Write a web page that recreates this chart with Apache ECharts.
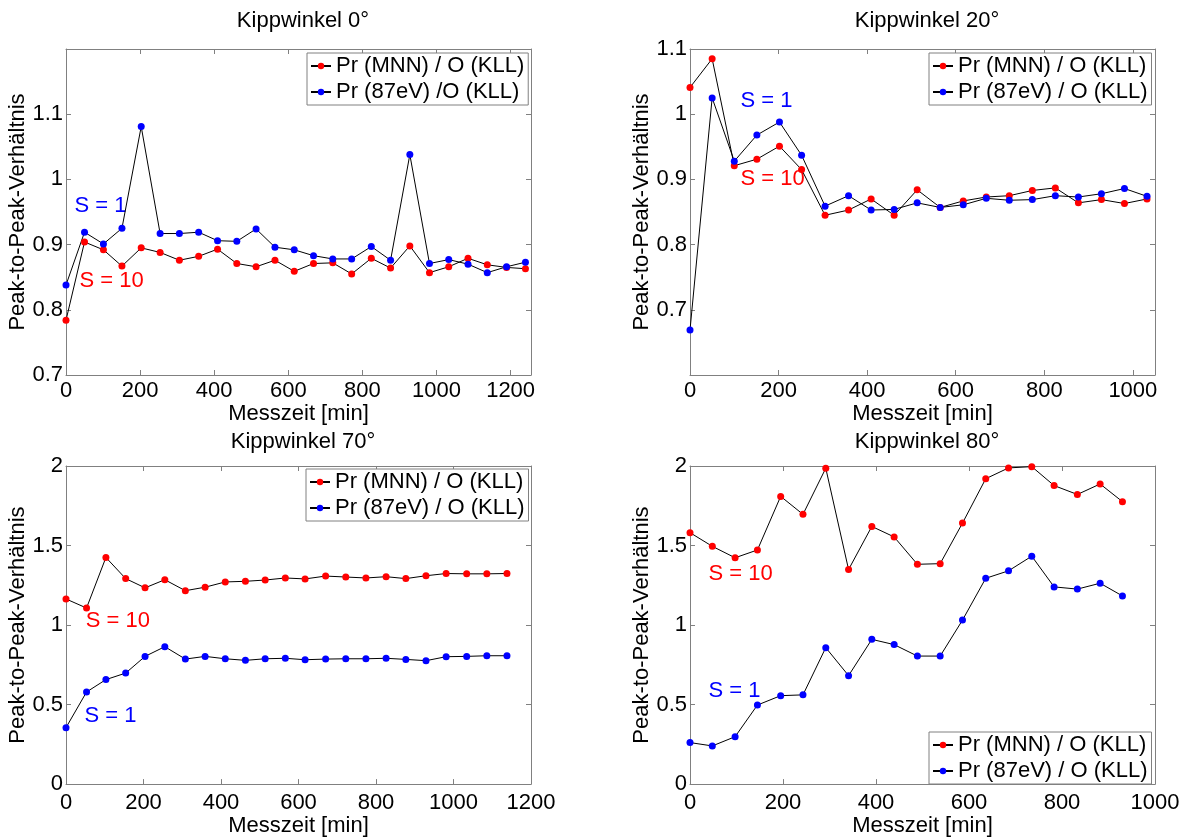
<!DOCTYPE html>
<html><head><meta charset="utf-8">
<script src="https://cdn.jsdelivr.net/npm/echarts@6/dist/echarts.min.js"></script>
<style>html,body{margin:0;padding:0;background:#fff}#c{width:1183px;height:838px}</style>
</head><body><div id="c"></div>
<script>
// ---------- DATA ----------
const panelTitles = ['Kippwinkel 0°', 'Kippwinkel 20°', 'Kippwinkel 70°', 'Kippwinkel 80°'];
const nameMNN = 'Pr (MNN) / O (KLL)';
const name87a = 'Pr (87eV) /O (KLL)';
const name87b = 'Pr (87eV) / O (KLL)';
const xAxisName = 'Messzeit [min]';
const yAxisName = 'Peak-to-Peak-Verhältnis';

// Kippwinkel 0°
const time0 = [0, 50, 101, 151, 203, 254, 306, 358, 409, 461, 513, 564, 616, 668, 720, 771, 824, 876, 928, 981, 1033, 1085, 1137, 1189, 1240];
const mnn0  = [0.784, 0.904, 0.892, 0.867, 0.895, 0.888, 0.876, 0.882, 0.893, 0.871, 0.866, 0.876, 0.859, 0.871, 0.872, 0.855, 0.879, 0.864, 0.898, 0.857, 0.866, 0.879, 0.869, 0.865, 0.863];
const ev0   = [0.838, 0.919, 0.901, 0.925, 1.081, 0.917, 0.917, 0.919, 0.906, 0.905, 0.924, 0.896, 0.892, 0.883, 0.878, 0.878, 0.897, 0.876, 1.038, 0.871, 0.877, 0.870, 0.857, 0.866, 0.873];

// Kippwinkel 20°
const time20 = [0, 50, 100, 151, 202, 252, 305, 358, 409, 461, 513, 565, 617, 669, 721, 773, 825, 877, 929, 981, 1032];
const mnn20  = [1.041, 1.085, 0.921, 0.931, 0.951, 0.915, 0.845, 0.853, 0.870, 0.845, 0.884, 0.857, 0.867, 0.873, 0.875, 0.883, 0.887, 0.864, 0.869, 0.863, 0.870];
const ev20   = [0.669, 1.025, 0.928, 0.968, 0.988, 0.937, 0.859, 0.875, 0.853, 0.854, 0.864, 0.857, 0.861, 0.871, 0.868, 0.869, 0.875, 0.873, 0.878, 0.886, 0.874];

// Kippwinkel 70°
const time70 = [0, 53, 103, 154, 204, 255, 308, 359, 411, 463, 514, 566, 617, 670, 722, 774, 826, 877, 929, 981, 1034, 1086, 1138];
const mnn70  = [1.164, 1.107, 1.425, 1.292, 1.234, 1.285, 1.216, 1.238, 1.271, 1.275, 1.283, 1.296, 1.290, 1.308, 1.302, 1.296, 1.304, 1.292, 1.310, 1.324, 1.322, 1.322, 1.324];
const ev70   = [0.355, 0.579, 0.657, 0.698, 0.803, 0.864, 0.786, 0.803, 0.788, 0.778, 0.788, 0.791, 0.782, 0.786, 0.788, 0.788, 0.791, 0.784, 0.776, 0.801, 0.803, 0.807, 0.807];

// Kippwinkel 80°
const time80 = [0, 48, 97, 145, 195, 243, 292, 341, 391, 439, 489, 538, 586, 636, 685, 735, 783, 833, 882, 930];
const mnn80  = [1.581, 1.495, 1.423, 1.472, 1.809, 1.696, 1.986, 1.349, 1.620, 1.554, 1.382, 1.386, 1.641, 1.920, 1.988, 1.996, 1.877, 1.821, 1.887, 1.776];
const ev80   = [0.261, 0.240, 0.298, 0.497, 0.556, 0.561, 0.858, 0.682, 0.910, 0.877, 0.805, 0.805, 1.031, 1.294, 1.341, 1.433, 1.240, 1.226, 1.263, 1.183];

// axis ranges
const xMaxs  = [1255, 1050, 1200, 1000];
const yMins  = [0.7, 0.6, 0, 0];
const yMaxs  = [1.2, 1.1, 2, 2];
const ySteps = [0.1, 0.1, 0.5, 0.5];

// annotation texts (data coordinates)
const annS1  = [[24, 0.958], [115, 1.0195], [49, 0.427], [41, 0.585]];
const annS10 = [[38, 0.843], [115, 0.9005], [52, 1.023], [41, 1.320]];

// ---------- CHART ----------
const FONT = 'Liberation Sans, Arial, Helvetica, sans-serif';
const grids = [
  {left: 66, top: 49, width: 465, height: 326},
  {left: 690, top: 49, width: 465, height: 326},
  {left: 66, top: 466, width: 465, height: 325},
  {left: 690, top: 466, width: 465, height: 325}
];
const legendPos = [
  {left: 307, top: 53}, {left: 929, top: 53}, {left: 306, top: 469}, {left: 929, top: 732}
];
const titlePos = [{x: 298, y: 5}, {x: 922, y: 5}, {x: 298, y: 426}, {x: 922, y: 426}];
const panels = [
  {t: time0, a: mnn0, b: ev0, nb: name87a},
  {t: time20, a: mnn20, b: ev20, nb: name87b},
  {t: time70, a: mnn70, b: ev70, nb: name87b},
  {t: time80, a: mnn80, b: ev80, nb: name87b}
];
const AX = '#808080';
const xAxes = [], yAxes = [], series = [], legends = [], titles = [];
panels.forEach((p, i) => {
  const top = i < 2;
  const base = {
    gridIndex: i, type: 'value', min: 0, max: xMaxs[i], interval: 200,
    axisLine: {show: true, onZero: false, lineStyle: {color: AX, width: 1}},
    axisTick: {show: true, inside: true, length: 5, lineStyle: {color: AX}},
    splitLine: {show: false}
  };
  xAxes.push(Object.assign({}, base, {
    position: 'bottom', name: xAxisName, nameLocation: 'middle', nameGap: top ? 20 : 26,
    nameTextStyle: {fontSize: 22, color: '#000', fontFamily: FONT},
    axisLabel: {fontSize: 22, color: '#000', fontFamily: FONT, margin: top ? 5 : 8,
      showMaxLabel: xMaxs[i] % 200 === 0, formatter: v => String(v)}
  }));
  xAxes.push(Object.assign({}, base, {position: 'top', axisLabel: {show: false}}));
  const ybase = {
    gridIndex: i, type: 'value', min: yMins[i], max: yMaxs[i], interval: ySteps[i],
    axisLine: {show: true, onZero: false, lineStyle: {color: AX, width: 1}},
    axisTick: {show: true, inside: true, length: 5, lineStyle: {color: AX}},
    splitLine: {show: false}
  };
  yAxes.push(Object.assign({}, ybase, {
    position: 'left', name: yAxisName, nameLocation: 'middle', nameGap: 36,
    nameTextStyle: {fontSize: 22, color: '#000', fontFamily: FONT},
    axisLabel: {fontSize: 22, color: '#000', fontFamily: FONT, margin: 3,
      showMaxLabel: i !== 0, showMinLabel: i !== 1}
  }));
  yAxes.push(Object.assign({}, ybase, {position: 'right', axisLabel: {show: false}}));

  const mk = (name, ys, col) => ({
    type: 'line', name: name, xAxisIndex: 2 * i, yAxisIndex: 2 * i,
    data: p.t.map((x, k) => [x, ys[k]]),
    symbol: 'circle', symbolSize: 7, showSymbol: true,
    lineStyle: {color: '#000', width: 1},
    itemStyle: {color: col},
    emphasis: {disabled: true}, animation: false
  });
  series.push(mk(nameMNN, p.a, '#ff0000'));
  series.push(mk(p.nb, p.b, '#0000ff'));

  const ann = (pt, txt, col) => ({
    type: 'scatter', xAxisIndex: 2 * i, yAxisIndex: 2 * i, silent: true,
    symbolSize: 1, itemStyle: {color: col, opacity: 0},
    data: [{name: txt, value: pt}],
    label: {show: true, position: [0, 0], align: 'left', verticalAlign: 'middle', opacity: 1,
      formatter: '{b}', fontSize: 22, color: col, fontFamily: FONT}
  });
  series.push(ann(annS1[i], 'S = 1', '#0000ff'));
  series.push(ann(annS10[i], 'S = 10', '#ff0000'));

  legends.push({
    left: legendPos[i].left, top: legendPos[i].top, orient: 'vertical',
    data: [nameMNN, p.nb], itemWidth: 20, itemHeight: 8, itemGap: 4,
    padding: [2, 4, 2, 3], borderColor: AX, borderWidth: 1, backgroundColor: '#fff',
    textStyle: {fontSize: 22, color: '#000', fontFamily: FONT}, selectedMode: false
  });
  titles.push({
    text: panelTitles[i], left: titlePos[i].x, top: titlePos[i].y, textAlign: 'center',
    textStyle: {fontSize: 22, fontWeight: 'normal', color: '#000', fontFamily: FONT}
  });
});

const chart = echarts.init(document.getElementById('c'), null, {renderer: 'canvas'});
chart.setOption({
  animation: false, backgroundColor: '#fff',
  title: titles, grid: grids, xAxis: xAxes, yAxis: yAxes, legend: legends, series: series
});
</script></body></html>
